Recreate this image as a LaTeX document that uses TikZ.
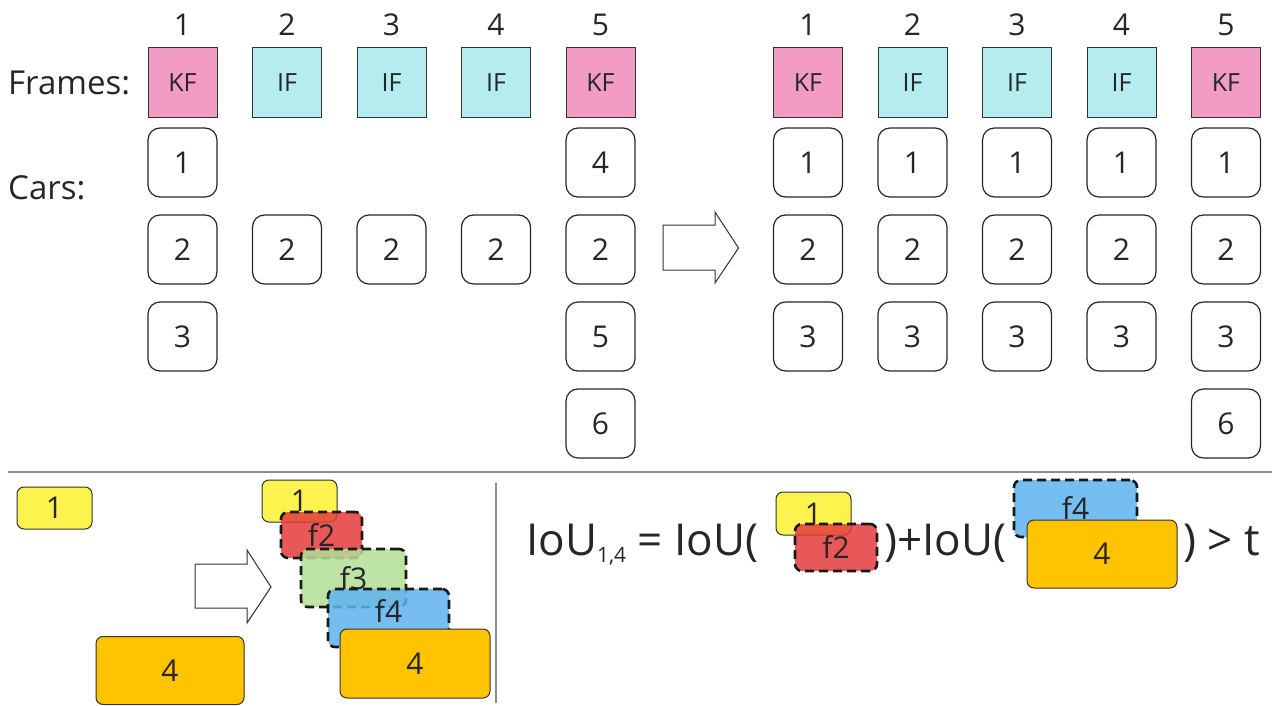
\documentclass[tikz,border=0pt]{standalone}
\usepackage{fontspec}
\setmainfont{Open Sans}
\newcommand\fsz[1]{\fontsize{#1}{#1}\selectfont}
\definecolor{kfpink}{HTML}{F29BC3}
\definecolor{ifcyan}{HTML}{B4ECEF}
\definecolor{bxyellow}{HTML}{FDF34E}
\definecolor{bxorange}{HTML}{FFC300}
\definecolor{bxred}{HTML}{E53B3B}
\definecolor{bxgreen}{HTML}{B3DF95}
\definecolor{bxblue}{HTML}{5EB3F0}
\definecolor{txt}{HTML}{262626}
\begin{document}
\begin{tikzpicture}[x=1pt,y=-1pt,
  every node/.style={text=txt},
  framebox/.style={draw=black!80, line width=1pt, minimum width=69pt, minimum height=70pt, inner sep=0pt, font=\fsz{25}},
  kfbox/.style={framebox, fill=kfpink},
  ifbox/.style={framebox, fill=ifcyan},
  carbox/.style={draw=black!85, line width=1.2pt, rounded corners=12pt, minimum width=69pt, minimum height=69pt, inner sep=0pt, font=\fsz{30}},
  numlabel/.style={font=\fsz{30}, inner sep=0pt},
  rowlabel/.style={font=\fsz{33}, anchor=west, inner sep=0pt},
  solidbox/.style={draw=black!80, line width=1pt, rounded corners=7pt, inner sep=0pt, font=\fsz{30}},
  dashbox/.style={draw=black!90, line width=2.6pt, dash pattern=on 9pt off 5pt, rounded corners=7pt, inner sep=0pt, font=\fsz{30}, fill opacity=0.85, text opacity=1},
  bigarrow/.style={draw=black!80, line width=1pt, fill=white, line join=miter},
  sepline/.style={draw=black!45, line width=1.3pt},
  eqtext/.style={font=\fsz{44}, inner sep=0pt, anchor=base west}
]
\useasboundingbox (0,0) rectangle (1278,706);

% ---------- left grid ----------
\node[rowlabel] (frameslbl) at (8,83) {Frames:};
\node[rowlabel] (carslbl) at (8,188) {Cars:};

\foreach \i/\x in {1/182.5,2/287,3/391.5,4/496,5/600.5}{
  \node[numlabel] (ln\i) at (\x,25) {\i};
}
\node[kfbox]  (lf1) at (182.5,83) {KF};
\node[ifbox]  (lf2) at (287,83) {IF};
\node[ifbox]  (lf3) at (391.5,83) {IF};
\node[ifbox]  (lf4) at (496,83) {IF};
\node[kfbox]  (lf5) at (600.5,83) {KF};

\node[carbox] (lc11) at (182.5,162.5) {1};
\node[carbox] (lc12) at (182.5,249.5) {2};
\node[carbox] (lc13) at (182.5,336.5) {3};
\node[carbox] (lc22) at (287,249.5) {2};
\node[carbox] (lc32) at (391.5,249.5) {2};
\node[carbox] (lc42) at (496,249.5) {2};
\node[carbox] (lc51) at (600.5,162.5) {4};
\node[carbox] (lc52) at (600.5,249.5) {2};
\node[carbox] (lc53) at (600.5,336.5) {5};
\node[carbox] (lc54) at (600.5,423.5) {6};

% ---------- big arrow ----------
\draw[bigarrow] (663,225) -- (715,225) -- (715,212) -- (738.5,248) -- (715,283) -- (715,270) -- (663,270) -- cycle;

% ---------- right grid ----------
\foreach \i/\x in {1/808,2/912.5,3/1017,4/1121.5,5/1226}{
  \node[numlabel] (rn\i) at (\x,25) {\i};
}
\node[kfbox]  (rf1) at (808,83) {KF};
\node[ifbox]  (rf2) at (912.5,83) {IF};
\node[ifbox]  (rf3) at (1017,83) {IF};
\node[ifbox]  (rf4) at (1121.5,83) {IF};
\node[kfbox]  (rf5) at (1226,83) {KF};
\foreach \i/\x in {1/808,2/912.5,3/1017,4/1121.5,5/1226}{
  \node[carbox] (rc\i1) at (\x,162.5) {1};
  \node[carbox] (rc\i2) at (\x,249.5) {2};
  \node[carbox] (rc\i3) at (\x,336.5) {3};
}
\node[carbox] (rc54) at (1226,423.5) {6};

% ---------- separators ----------
\draw[sepline] (8,472) -- (1272,472);
\draw[sepline] (496,483) -- (496,703);

% ---------- bottom left ----------
\node[solidbox, fill=bxyellow, minimum width=75pt, minimum height=42pt] (by1) at (54.5,508) {1};
\node[solidbox, fill=bxorange, minimum width=148pt, minimum height=68pt] (bo4) at (170,670.5) {4};
\draw[bigarrow] (195,564) -- (247,564) -- (247,550) -- (271,587) -- (247,623) -- (247,608) -- (195,608) -- cycle;

\node[solidbox, fill=bxyellow, minimum width=75pt, minimum height=42pt] (sy1) at (299.5,501) {1};
\node[dashbox, fill=bxred, minimum width=81pt, minimum height=46pt] (sf2) at (321.5,535) {f2};
\node[dashbox, fill=bxgreen, minimum width=105pt, minimum height=58pt] (sf3) at (353.5,578) {f3};
\node[dashbox, fill=bxblue, minimum width=121pt, minimum height=58pt, text depth=14pt] (sf4) at (388.5,618) {f4};
\node[solidbox, fill=bxorange, minimum width=150pt, minimum height=69pt] (so4) at (415,663.5) {4};

% ---------- equation ----------
\node[eqtext] (eqa) at (526,555) {IoU\raisebox{-7pt}{\fsz{21}1,4} = IoU(};
\node[solidbox, fill=bxyellow, minimum width=75pt, minimum height=43pt] (ey1) at (813.5,513.5) {1};
\node[dashbox, fill=bxred, minimum width=82pt, minimum height=47pt] (ef2) at (836,547.5) {f2};
\node[eqtext] (eqb) at (884,555) {)+IoU(};
\node[dashbox, fill=bxblue, minimum width=123pt, minimum height=57pt] (ef4) at (1075.5,508.5) {f4};
\node[solidbox, fill=bxorange, minimum width=150pt, minimum height=68pt] (eo4) at (1102,554) {4};
\node[eqtext] (eqc) at (1183,555) {) > t};
\end{tikzpicture}
\end{document}
